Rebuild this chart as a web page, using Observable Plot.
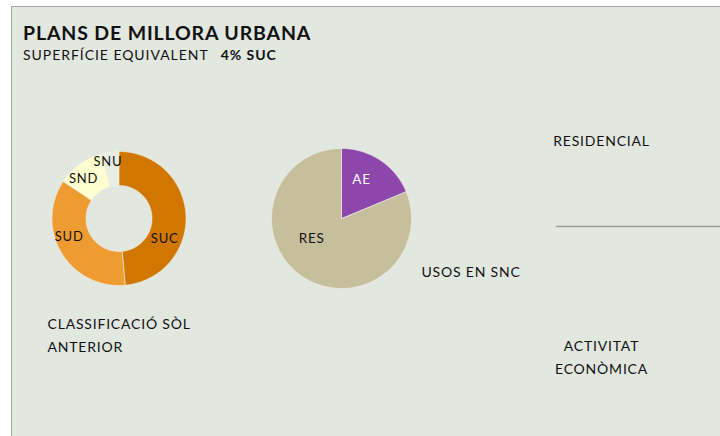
<!DOCTYPE html>
<html>
<head>
<meta charset="utf-8">
<script src="https://cdn.jsdelivr.net/npm/d3@7"></script>
<script src="https://cdn.jsdelivr.net/npm/@observablehq/plot@0.6"></script>
<style>
  html, body { margin: 0; padding: 0; background: #ffffff; }
  body { width: 720px; height: 436px; overflow: hidden; position: relative; font-family: Lato, "Open Sans", sans-serif; color: #111; }
  #panel {
    position: absolute; left: 11px; top: 6px; width: 720px; height: 440px;
    background: #e2e7e0; border-left: 1px solid #a4a7a3; border-top: 1px solid #a4a7a3;
  }
  #title { position: absolute; left: 11px; top: 15.5px; font-size: 19.5px; line-height: 20px; font-weight: 700; letter-spacing: 0.85px; white-space: nowrap; }
  #subtitle { position: absolute; left: 11px; top: 40px; font-size: 14px; line-height: 16px; letter-spacing: 0.95px; white-space: nowrap; }
  #subtitle b { margin-left: 8px; }
  #chart { position: absolute; left: 0; top: 63px; }
  #chart svg { letter-spacing: 0.8px; }
</style>
</head>
<body>
<div id="panel">
  <div id="title">PLANS DE MILLORA URBANA</div>
  <div id="subtitle">SUPERFÍCIE EQUIVALENT <b>4% SUC</b></div>
  <div id="chart"></div>
</div>
<script>
// Previous land classification (share of surface, %)
const classes = ["SUC", "SUD", "SND", "SNU"];
const classShares = [48.6, 35.8, 11.3, 4.3];
const classColors = ["#d17700", "#ee9b31", "#ffffcf", "#eaeee2"];

// Uses in non-consolidated urban land (%)
const uses = ["AE", "RES"];
const useShares = [18.8, 81.2];
const useColors = ["#8d46ab", "#c6bf9b"];

// Panel captions
const donutCaption = "CLASSIFICACIÓ SÒL\nANTERIOR";
const pieCaption = "USOS EN SNC";
const topLegend = "RESIDENCIAL";
const bottomLegend = "ACTIVITAT\nECONÒMICA";

const W = 708, H = 366;
const FONT = "Lato, 'Open Sans', sans-serif";

// Turn pie angles into closed outlines (outer arc forward, inner arc back)
function slices(keys, values, cx, cy, r0, r1, labelPlace) {
  const arcs = d3.pie().sort(null)(values);
  const outline = [], labels = [];
  arcs.forEach((a, i) => {
    const key = keys[i];
    const n = Math.max(2, Math.ceil((a.endAngle - a.startAngle) / 0.01));
    for (let k = 0; k <= n; k++) {
      const t = a.startAngle + (a.endAngle - a.startAngle) * k / n;
      outline.push({key, x: cx + r1 * Math.sin(t), y: cy - r1 * Math.cos(t)});
    }
    if (r0 > 0) {
      for (let k = n; k >= 0; k--) {
        const t = a.startAngle + (a.endAngle - a.startAngle) * k / n;
        outline.push({key, x: cx + r0 * Math.sin(t), y: cy - r0 * Math.cos(t)});
      }
    } else {
      outline.push({key, x: cx, y: cy});
    }
    const [deg, rr] = labelPlace[key];
    const t = deg * Math.PI / 180;
    labels.push({key, x: cx + rr * Math.sin(t), y: cy - rr * Math.cos(t)});
  });
  return {outline, labels};
}

const donut = slices(classes, classShares, 106.5, 148, 33, 67,
  {SUC: [114, 50], SUD: [250, 53], SND: [318, 53], SNU: [349, 58]});
const pie = slices(uses, useShares, 329, 148, 0, 70,
  {AE: [27, 44], RES: [236, 36]});

const caption = {text: (d) => d, fontSize: 14, fill: "#111"};

const chart = Plot.plot({
  width: W,
  height: H,
  margin: 0,
  x: {domain: [0, W], range: [0, W], axis: null},
  y: {domain: [0, H], range: [0, H], axis: null},
  color: {domain: [...classes, ...uses], range: [...classColors, ...useColors]},
  style: {background: "transparent", fontFamily: FONT, overflow: "visible"},
  marks: [
    Plot.line(donut.outline, {x: "x", y: "y", z: "key", fill: "key", stroke: "#f2f2ee", strokeWidth: 0.6, curve: "linear-closed"}),
    Plot.line(pie.outline, {x: "x", y: "y", z: "key", fill: "key", stroke: "#f2f2ee", strokeWidth: 0.6, curve: "linear-closed"}),
    Plot.text(donut.labels, {x: "x", y: "y", text: "key", fontSize: 13, fill: "#111"}),
    Plot.text(pie.labels, {x: "x", y: "y", text: "key", fontSize: 13.5, fill: (d) => d.key === "AE" ? "#ffffff" : "#111"}),
    Plot.text([donutCaption], {...caption, x: () => 35, y: () => 262.5, textAnchor: "start", lineHeight: 1.64}),
    Plot.text([pieCaption], {...caption, x: () => 409, y: () => 202, textAnchor: "start"}),
    Plot.text([topLegend], {...caption, x: () => 589, y: () => 71}),
    Plot.ruleY([156], {x1: 544, x2: W + 10, stroke: "#9a9c99", strokeWidth: 1.5}),
    Plot.text([bottomLegend], {...caption, x: () => 589, y: () => 284.5, lineHeight: 1.64})
  ]
});
document.getElementById("chart").append(chart);
</script>
</body>
</html>
